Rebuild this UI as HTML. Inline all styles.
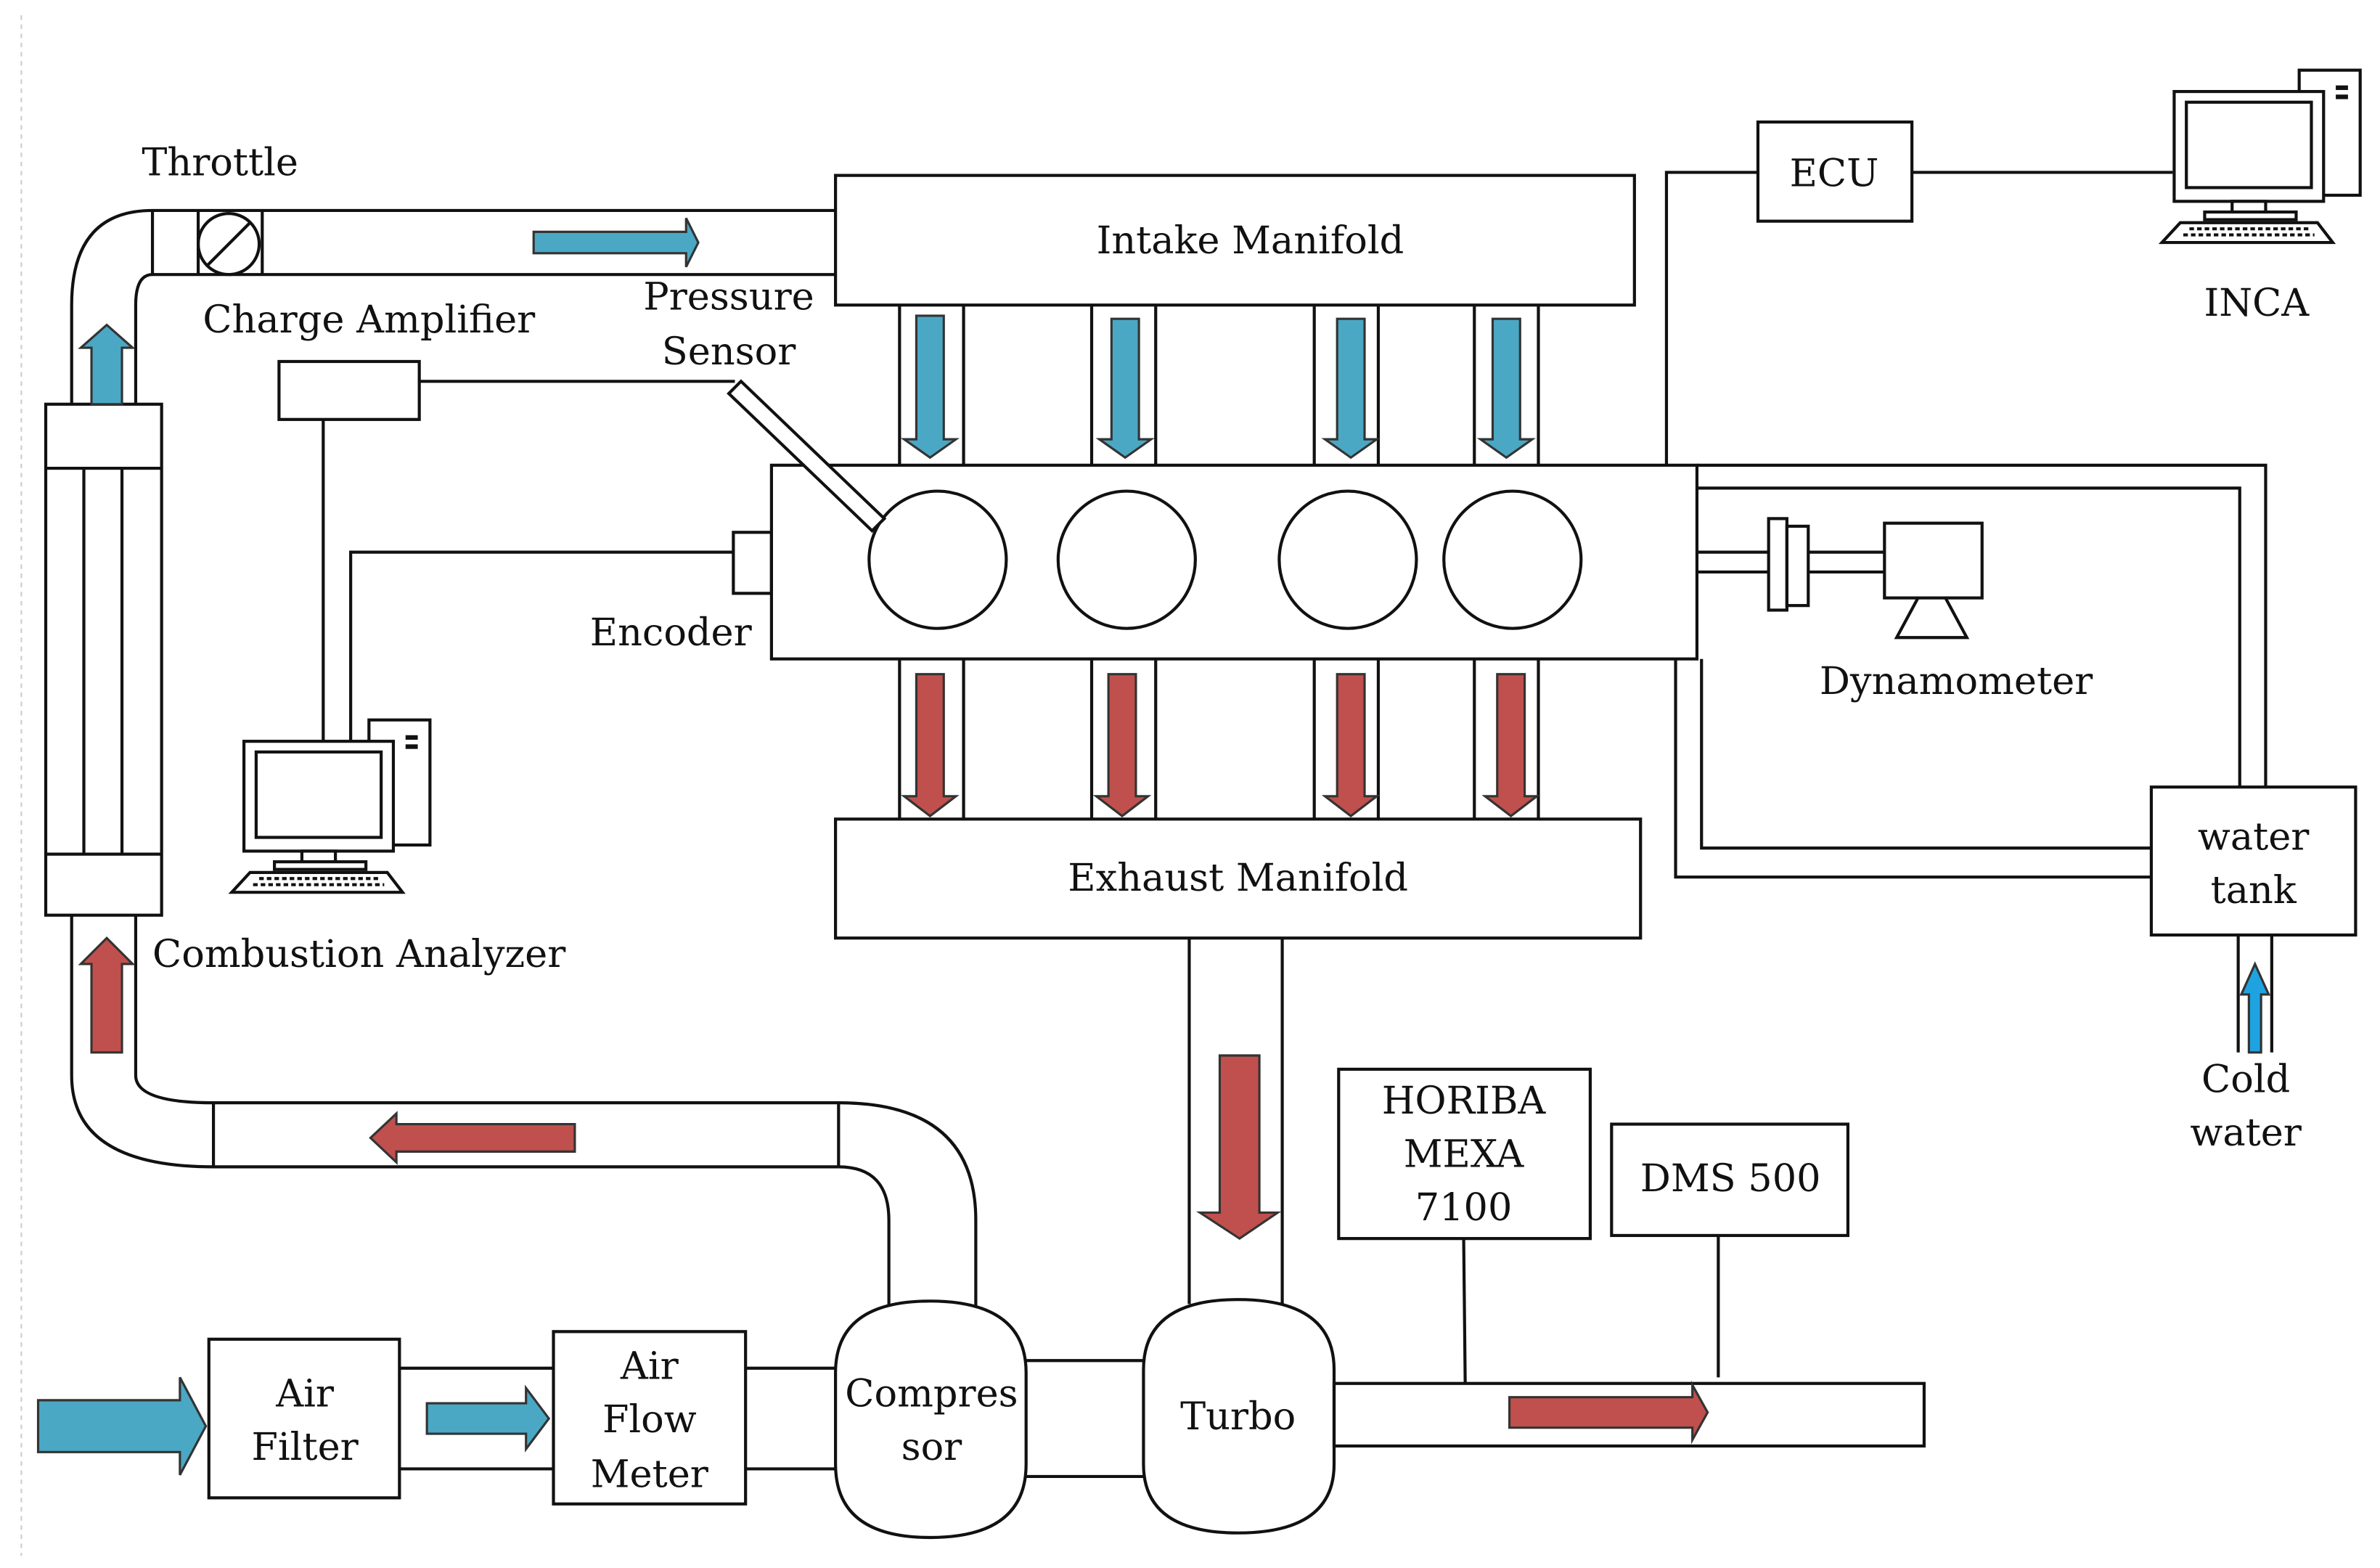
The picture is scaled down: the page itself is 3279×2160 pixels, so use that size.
<!DOCTYPE html>
<html><head><meta charset="utf-8"><style>
html,body{margin:0;padding:0;background:#fff;}
svg{display:block;}
text{font-family:"DejaVu Serif","Liberation Serif",serif;font-size:25px;fill:#111;}
</style></head><body>
<svg width="3279" height="2160" viewBox="0 0 1561 1028" preserveAspectRatio="none" xmlns="http://www.w3.org/2000/svg">
<defs>
<g id="pc">
 <rect x="90" y="0" width="40" height="82" fill="#fff" stroke="#111" stroke-width="2"/>
 <rect x="114" y="10" width="8" height="3" fill="#111"/><rect x="114" y="16" width="8" height="3" fill="#111"/>
 <rect x="8" y="14" width="98" height="72" fill="#fff" stroke="#111" stroke-width="2"/>
 <rect x="16" y="21" width="82" height="56" fill="#fff" stroke="#111" stroke-width="2"/>
 <rect x="46" y="86" width="22" height="7" fill="#fff" stroke="#111" stroke-width="2"/>
 <rect x="28" y="93" width="60" height="5" fill="#fff" stroke="#111" stroke-width="2"/>
 <path d="M12 100 L102 100 L112 113 L0 113 Z" fill="#fff" stroke="#111" stroke-width="2"/>
 <path d="M18 104 H96 M14 108 H100" stroke="#111" stroke-width="2" stroke-dasharray="3 2"/>
</g>
</defs>
<g fill="none" stroke="#111" stroke-width="2">
<line x1="14" y1="10" x2="14" y2="1020" stroke="#ccc" stroke-width="1" stroke-dasharray="3 3"/>
<path d="M47 265 V200 Q47 138 100 138 H548"/>
<path d="M89 265 V200 Q89 180 100 180 H548"/>
<line x1="100" y1="138" x2="100" y2="180"/><line x1="130" y1="138" x2="130" y2="180"/><line x1="172" y1="138" x2="172" y2="180"/>
<circle cx="150" cy="160" r="20"/><line x1="136" y1="174" x2="164" y2="146"/>
<rect x="30" y="265" width="76" height="335"/>
<line x1="30" y1="307" x2="106" y2="307"/><line x1="30" y1="560" x2="106" y2="560"/>
<line x1="55" y1="307" x2="55" y2="560"/><line x1="80" y1="307" x2="80" y2="560"/>
<path d="M47 600 V705 Q47 765 140 765 H550"/>
<path d="M89 600 V705 Q89 723 140 723 H550 Q640 723 640 800 V858"/>
<path d="M550 765 Q583 765 583 800 V858"/>
<line x1="140" y1="723" x2="140" y2="765"/><line x1="550" y1="723" x2="550" y2="765"/>
<rect x="548" y="115" width="524" height="85"/>
<path d="M590 200V305M632 200V305M716 200V305M758 200V305M862 200V305M904 200V305M967 200V305M1009 200V305"/>
<rect x="506" y="305" width="607" height="127"/>
<circle cx="615" cy="367" r="45"/><circle cx="739" cy="367" r="45"/><circle cx="884" cy="367" r="45"/><circle cx="992" cy="367" r="45"/>
<rect x="481" y="349" width="25" height="40"/>
<path d="M486 250 L580 340 L572 348 L478 258 Z" fill="#fff"/>
<rect x="183" y="237" width="92" height="38"/>
<path d="M275 250 H482 M212 275 V490 M481 362 H230 V490"/>
<path d="M590 432V537M632 432V537M716 432V537M758 432V537M862 432V537M904 432V537M967 432V537M1009 432V537"/>
<rect x="548" y="537" width="528" height="78"/>
<path d="M780 615 V855 M841 615 V855"/>
<path d="M548 900 Q548 853 610 853 Q673 853 673 900 V960 Q673 1008 610 1008 Q548 1008 548 960 Z" fill="#fff"/>
<path d="M750 898 Q750 852 812 852 Q875 852 875 898 V960 Q875 1005 812 1005 Q750 1005 750 960 Z" fill="#fff"/>
<path d="M673 892 H750 M673 968 H750"/>
<rect x="875" y="907" width="387" height="41"/>
<rect x="878" y="701" width="165" height="111"/><line x1="960" y1="812" x2="961" y2="907"/>
<rect x="1057" y="737" width="155" height="73"/><line x1="1127" y1="810" x2="1127" y2="903"/>
<rect x="137" y="878" width="125" height="104"/>
<rect x="363" y="873" width="126" height="113"/>
<path d="M262 897 H363 M262 963 H363 M489 897 H548 M489 963 H548"/>
<rect x="1153" y="80" width="101" height="65"/>
<path d="M1254 113 H1425 M1153 113 H1093 V305"/>
<path d="M1113 362 H1160 M1113 375 H1160 M1186 362 H1236 M1186 375 H1236"/>
<rect x="1160" y="340" width="12" height="60"/><rect x="1172" y="345" width="14" height="52"/>
<rect x="1236" y="343" width="64" height="49"/>
<path d="M1258 392 L1244 418 H1290 L1276 392"/>
<path d="M1113 305 H1486 V516 M1113 320 H1469 V516"/>
<path d="M1099 432 V575 H1411 M1116 432 V556 H1411"/>
<rect x="1411" y="516" width="134" height="97"/>
<path d="M1468 613 V690 M1490 613 V690"/>
</g>
<g stroke="#333" stroke-width="1.5">
<g fill="#4aa8c4">
<path d="M350 152 H450 V143 L458 159 L450 175 V166 H350 Z"/>
<path d="M60 265 V228 H53 L70 213 L87 228 H80 V265 Z"/>
<path d="M601 207 H619 V288 H627 L610 300 L593 288 H601 Z"/>
<path d="M729 209 H747 V288 H755 L738 300 L721 288 H729 Z"/>
<path d="M877 209 H895 V288 H903 L886 300 L869 288 H877 Z"/>
<path d="M979 209 H997 V288 H1005 L988 300 L971 288 H979 Z"/>
<path d="M25 918 H118 V903 L135 935 L118 967 V952 H25 Z"/>
<path d="M280 920 H345 V910 L360 930 L345 950 V940 H280 Z"/>
</g>
<path d="M1475 690 V652 H1470 L1479 632 L1488 652 H1483 V690 Z" fill="#1fa3e0"/>
<g fill="#c0504d">
<path d="M601 442 H619 V522 H627 L610 535 L593 522 H601 Z"/>
<path d="M727 442 H745 V522 H753 L736 535 L719 522 H727 Z"/>
<path d="M877 442 H895 V522 H903 L886 535 L869 522 H877 Z"/>
<path d="M982 442 H1000 V522 H1008 L991 535 L974 522 H982 Z"/>
<path d="M60 690 V632 H53 L70 615 L87 632 H80 V690 Z"/>
<path d="M377 737 H260 V730 L243 746 L260 762 V755 H377 Z"/>
<path d="M800 692 H826 V795 H838 L813 812 L787 795 H800 Z"/>
<path d="M990 916 H1110 V908 L1120 926 L1110 944 V936 H990 Z"/>
</g>
</g>
<use href="#pc" x="152" y="472"/>
<use href="#pc" x="1418" y="46"/>
<text x="93" y="115">Throttle</text>
<text x="133" y="218">Charge Amplifier</text>
<text x="478" y="203" text-anchor="middle">Pressure</text>
<text x="478" y="239" text-anchor="middle">Sensor</text>
<text x="820" y="166" text-anchor="middle">Intake Manifold</text>
<text x="1203" y="122" text-anchor="middle">ECU</text>
<text x="1480" y="207" text-anchor="middle">INCA</text>
<text x="440" y="423" text-anchor="middle">Encoder</text>
<text x="1283" y="455" text-anchor="middle">Dynamometer</text>
<text x="812" y="584" text-anchor="middle">Exhaust Manifold</text>
<text x="1478" y="557" text-anchor="middle">water</text>
<text x="1478" y="592" text-anchor="middle">tank</text>
<text x="1473" y="716" text-anchor="middle">Cold</text>
<text x="1473" y="751" text-anchor="middle">water</text>
<text x="100" y="634">Combustion Analyzer</text>
<text x="960" y="730" text-anchor="middle">HORIBA</text>
<text x="960" y="765" text-anchor="middle">MEXA</text>
<text x="960" y="800" text-anchor="middle">7100</text>
<text x="1135" y="781" text-anchor="middle">DMS 500</text>
<text x="200" y="922" text-anchor="middle">Air</text>
<text x="200" y="957" text-anchor="middle">Filter</text>
<text x="426" y="904" text-anchor="middle">Air</text>
<text x="426" y="939" text-anchor="middle">Flow</text>
<text x="426" y="975" text-anchor="middle">Meter</text>
<text x="611" y="922" text-anchor="middle">Compres</text>
<text x="611" y="957" text-anchor="middle">sor</text>
<text x="812" y="937" text-anchor="middle">Turbo</text>
</svg>
</body></html>
